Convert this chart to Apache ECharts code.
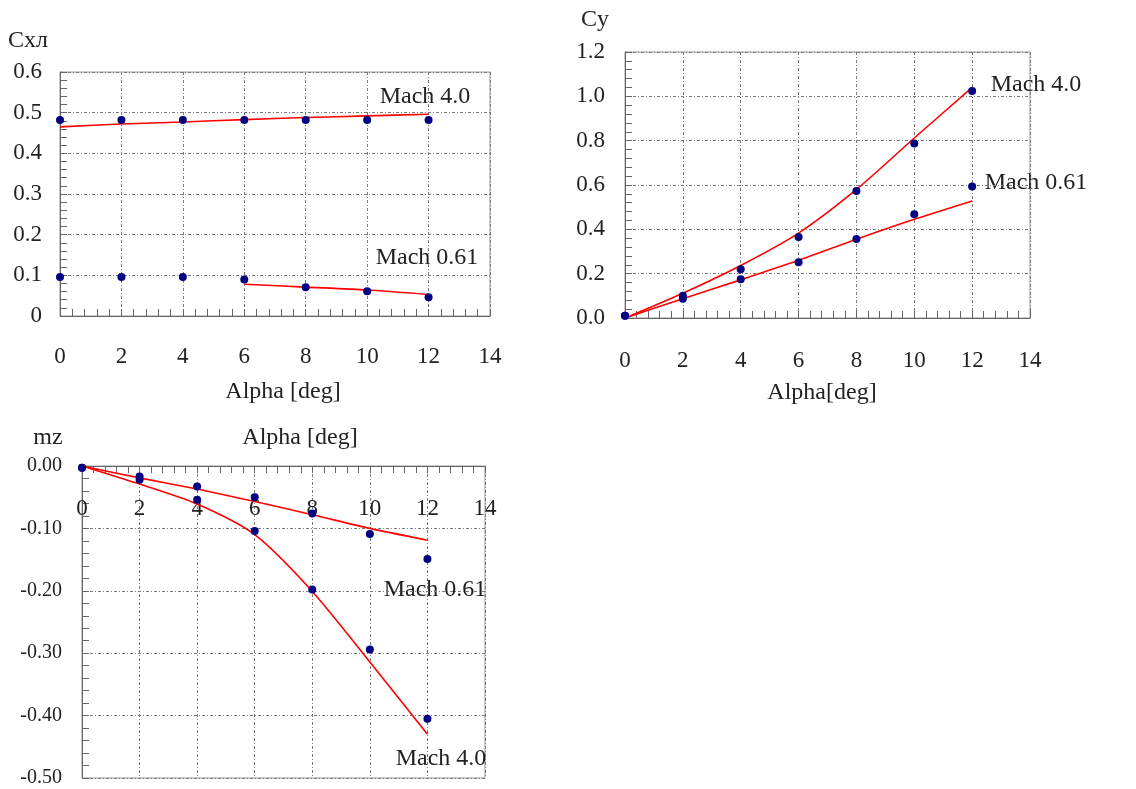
<!DOCTYPE html>
<html>
<head>
<meta charset="utf-8">
<script src="https://cdn.jsdelivr.net/npm/echarts@6/dist/echarts.min.js"></script>
<style>
  html, body { margin: 0; padding: 0; background: #fff; }
  #chart { width: 1136px; height: 789px; }
</style>
</head>
<body>
<div id="chart"></div>
<script>
// угол атаки, общий для всех трёх графиков
var alpha = [0, 2, 4, 6, 8, 10, 12];

// Схл: точки и аппроксимация
var cxM4Pts = [0.482, 0.482, 0.482, 0.482, 0.482, 0.482, 0.482];
var cxM061Pts = [0.096, 0.096, 0.096, 0.090, 0.071, 0.061, 0.046];
var cxM4Fit = [0.465, 0.472, 0.477, 0.483, 0.488, 0.492, 0.496];
var cxM061FitAlpha = [6, 8, 10, 12];
var cxM061Fit = [0.078, 0.071, 0.064, 0.053];

// Cy
var cyM4Pts = [0.01, 0.100, 0.220, 0.365, 0.573, 0.787, 1.024];
var cyM061Pts = [0.01, 0.087, 0.175, 0.252, 0.356, 0.468, 0.593];
var cyM4Fit = [0, 0.112, 0.237, 0.383, 0.580, 0.812, 1.040];
var cyM061Fit = [0, 0.087, 0.172, 0.260, 0.355, 0.445, 0.528];

// mz
var mzM061Pts = [-0.003, -0.017, -0.033, -0.050, -0.076, -0.109, -0.149];
var mzM4Pts = [-0.003, -0.022, -0.054, -0.104, -0.198, -0.294, -0.405];
var mzM061Fit = [0, -0.019, -0.037, -0.057, -0.078, -0.100, -0.119];
var mzM4Fit = [0, -0.029, -0.061, -0.110, -0.201, -0.314, -0.430];

var FONT = '"Liberation Serif", "DejaVu Serif", serif';
var TXT = '#222';
var DOT = '#000080';
var RED = '#ff0000';
var GRIDLINE = { color: '#7a7a7a', type: [3, 2, 1, 2], width: 1 };

function pairs(xs, ys) {
    var out = [];
    for (var i = 0; i < ys.length; i++) out.push([xs[i], ys[i]]);
    return out;
}

function xAxisOf(gridIndex, pos, inside, margin) {
    return {
        gridIndex: gridIndex, type: 'value', min: 0, max: 14, interval: 2,
        position: pos,
        axisLine: { show: true, onZero: false, lineStyle: { color: '#666', width: 1 } },
        axisTick: { show: true, inside: true, length: 7, lineStyle: { color: '#666' } },
        minorTick: { show: true, splitNumber: 5, length: 7, lineStyle: { color: '#666' } },
        axisLabel: { inside: inside, margin: margin, color: TXT, fontFamily: FONT, fontSize: 23 },
        splitLine: { show: true, lineStyle: GRIDLINE }
    };
}

function yAxisOf(gridIndex, min, max, interval, fmt, margin, fs) {
    return {
        gridIndex: gridIndex, type: 'value', min: min, max: max, interval: interval,
        axisLine: { show: true, onZero: false, lineStyle: { color: '#666', width: 1 } },
        axisTick: { show: true, inside: true, length: 7, lineStyle: { color: '#666' } },
        minorTick: { show: true, splitNumber: 5, length: 7, lineStyle: { color: '#666' } },
        axisLabel: { margin: margin, color: TXT, fontFamily: FONT, fontSize: fs, formatter: fmt },
        splitLine: { show: true, lineStyle: GRIDLINE }
    };
}

function pts(idx, data) {
    return {
        type: 'scatter', xAxisIndex: idx, yAxisIndex: idx, data: data,
        symbol: 'circle', symbolSize: 8, itemStyle: { color: DOT, opacity: 1 }, z: 5, silent: true
    };
}

function fit(idx, data) {
    return {
        type: 'line', xAxisIndex: idx, yAxisIndex: idx, data: data, smooth: 0.25,
        showSymbol: false, lineStyle: { color: RED, width: 1.6 }, z: 3, silent: true
    };
}

function txt(x, y, s, align, size) {
    return {
        type: 'text', x: x, y: y,
        style: { text: s, fill: TXT, fontFamily: FONT, fontSize: size || 24, align: align || 'center', verticalAlign: 'middle' }
    };
}

var chart = echarts.init(document.getElementById('chart'));
var option = {
    backgroundColor: '#fff',
    animation: false,
    grid: [
        { left: 60, top: 72, width: 430, height: 244, show: true, borderColor: '#999', borderWidth: 1 },
        { left: 625, top: 52, width: 405, height: 266, show: true, borderColor: '#999', borderWidth: 1 },
        { left: 82, top: 466, width: 403, height: 312, show: true, borderColor: '#999', borderWidth: 1 }
    ],
    xAxis: [
        xAxisOf(0, 'bottom', false, 29),
        xAxisOf(1, 'bottom', false, 31),
        xAxisOf(2, 'top', true, 31)
    ],
    yAxis: [
        yAxisOf(0, 0, 0.6, 0.1, function (v) { return v === 0 ? '0' : v.toFixed(1); }, 18, 23),
        yAxisOf(1, 0, 1.2, 0.2, function (v) { return v.toFixed(1); }, 20, 23),
        yAxisOf(2, -0.5, 0, 0.1, function (v) { return v.toFixed(2); }, 20, 20)
    ],
    series: [
        fit(0, pairs(alpha, cxM4Fit)),
        fit(0, pairs(cxM061FitAlpha, cxM061Fit)),
        pts(0, pairs(alpha, cxM4Pts)),
        pts(0, pairs(alpha, cxM061Pts)),

        fit(1, pairs(alpha, cyM4Fit)),
        fit(1, pairs(alpha, cyM061Fit)),
        pts(1, pairs(alpha, cyM4Pts)),
        pts(1, pairs(alpha, cyM061Pts)),

        fit(2, pairs(alpha, mzM061Fit)),
        fit(2, pairs(alpha, mzM4Fit)),
        pts(2, pairs(alpha, mzM061Pts)),
        pts(2, pairs(alpha, mzM4Pts))
    ],
    graphic: [
        txt(8, 41, 'Схл', 'left'),
        txt(425, 97, 'Mach 4.0'),
        txt(427, 258, 'Mach 0.61'),
        txt(283, 392, 'Alpha [deg]'),

        txt(595, 20, 'Cy'),
        txt(1036, 85, 'Mach 4.0'),
        txt(1036, 183, 'Mach 0.61'),
        txt(822, 393, 'Alpha[deg]'),

        txt(48, 438, 'mz'),
        txt(300, 438, 'Alpha [deg]'),
        txt(435, 590, 'Mach 0.61'),
        txt(441, 759, 'Mach 4.0')
    ]
};
chart.setOption(option);
</script>
</body>
</html>
